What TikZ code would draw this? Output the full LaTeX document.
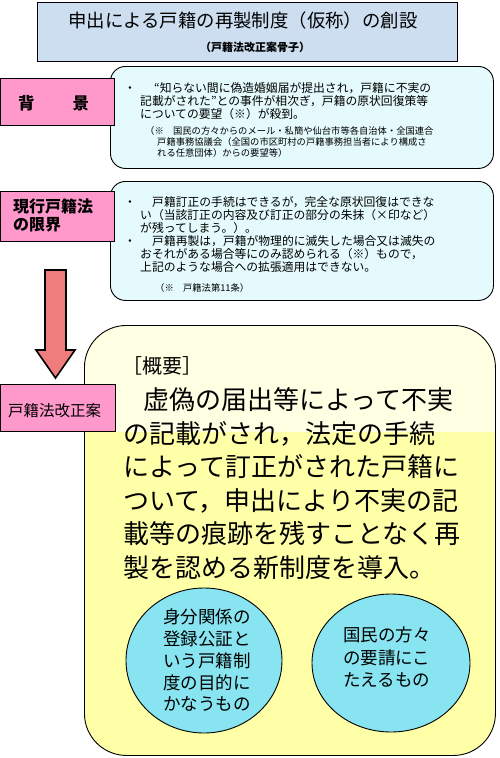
\documentclass[tikz,border=0pt]{standalone}
\usepackage{fontspec}
\setmainfont{Noto Sans CJK JP}
\usetikzlibrary{shapes.geometric}
\definecolor{titlebg}{RGB}{205,222,240}
\definecolor{pinkfill}{RGB}{255,153,204}
\definecolor{callbg}{RGB}{228,250,252}
\definecolor{ylight}{RGB}{255,255,228}
\definecolor{ymain}{RGB}{255,255,168}
\definecolor{circfill}{RGB}{135,228,240}
\definecolor{arrowred}{RGB}{240,125,125}
\newcommand\fs[2]{\fontsize{#1}{#2}\selectfont}
\tikzset{
  pinkbox/.style={draw=black, fill=pinkfill, line width=0.9pt, anchor=north west, inner sep=0},
  callout/.style={draw=black, fill=callbg, rounded corners=15pt, line width=0.9pt, anchor=north west, inner sep=0},
  circbox/.style={ellipse, draw=black, fill=circfill, line width=0.9pt, inner sep=0},
  txt/.style={anchor=base west, inner sep=0},
  bodytxt/.style={txt, font=\fs{11.8}{13}},
  smalltxt/.style={txt, font=\fs{9.3}{11}},
  bigtxt/.style={txt, font=\fs{26}{30}},
  circtxt/.style={txt, font=\fs{17.5}{20}},
}
\begin{document}
\begin{tikzpicture}[x=1pt,y=-1pt]
\useasboundingbox[fill=white] (0,0) rectangle (499,758);

% title
\node[draw=black, fill=titlebg, line width=1.2pt, minimum width=420pt, minimum height=59pt, anchor=north west, inner sep=0] (title) at (37,2) {};
\node[anchor=base, inner sep=0, font=\fs{18.4}{20}] (tmain) at (243,27) {申出による戸籍の再製制度（仮称）の創設};
\node[anchor=base, inner sep=0, font=\bfseries\fs{11}{12}] (tsub) at (255,51.5) {（戸籍法改正案骨子）};

% background
\node[callout, minimum width=383pt, minimum height=102pt] (bgbox) at (110,66) {};
\node[pinkbox, minimum width=114pt, minimum height=47pt] (bglabel) at (0,78) {};
\node[txt, font=\bfseries\fs{16.5}{18}] (bgtext) at (18,109.5) {背\hspace{38pt}景};

\node[bodytxt] (b1dot) at (124,92.6) {・};
\node[bodytxt] (b1l1) at (154,92.6) {“知らない間に偽造婚姻届が提出され，戸籍に不実の};
\node[bodytxt] (b1l2) at (140,105.6) {記載がされた”との事件が相次ぎ，戸籍の原状回復策等};
\node[bodytxt] (b1l3) at (140,118.6) {についての要望（※）が殺到。};
\node[smalltxt] (b1s1) at (145,134.6) {（※　国民の方々からのメール・私簡や仙台市等各自治体・全国連合};
\node[smalltxt] (b1s2) at (157,145.6) {戸籍事務協議会（全国の市区町村の戸籍事務担当者により構成さ};
\node[smalltxt] (b1s3) at (157,156.6) {れる任意団体）からの要望等）};

% current law limits
\node[callout, minimum width=383pt, minimum height=119pt] (limbox) at (110,181) {};
\node[pinkbox, minimum width=114pt, minimum height=50pt] (limlabel) at (0,191) {};
\node[txt, font=\bfseries\fs{16}{18}] (limt1) at (13,212) {現行戸籍法};
\node[txt, font=\bfseries\fs{16}{18}] (limt2) at (13,230) {の限界};

\node[bodytxt] (b2dot1) at (124,206.6) {・};
\node[bodytxt] (b2l1) at (152,206.6) {戸籍訂正の手続はできるが，完全な原状回復はできな};
\node[bodytxt] (b2l2) at (140,219.6) {い（当該訂正の内容及び訂正の部分の朱抹（×印など）};
\node[bodytxt] (b2l3) at (140,232.6) {が残ってしまう。）。};
\node[bodytxt] (b2dot2) at (124,245.6) {・};
\node[bodytxt] (b2l4) at (152,245.6) {戸籍再製は，戸籍が物理的に滅失した場合又は滅失の};
\node[bodytxt] (b2l5) at (140,258.6) {おそれがある場合等にのみ認められる（※）もので，};
\node[bodytxt] (b2l6) at (140,271.6) {上記のような場合への拡張適用はできない。};
\node[smalltxt] (b2s1) at (155,291.6) {（※　戸籍法第11条）};

% block arrow
\draw[fill=arrowred, line width=1.6pt, line join=miter]
  (45,270) -- (66,270) -- (66,350) -- (75,350) -- (55.5,378) -- (36,350) -- (45,350) -- cycle;

% summary box
\node[draw=black, fill=ylight, line width=0.9pt, rounded corners=42pt, anchor=north west, inner sep=0,
      minimum width=411pt, minimum height=430pt,
      path picture={\fill[ymain, sharp corners] (path picture bounding box.south west) rectangle ([yshift=-107pt]path picture bounding box.north east);}]
      (sumbox) at (84,325) {};
\node[pinkbox, minimum width=115pt, minimum height=47pt] (revlabel) at (0,384) {};
\node[txt, font=\fs{15.5}{17}] (revtext) at (8,416) {戸籍法改正案};

\node[txt, font=\fs{20}{22}] (gaiyo) at (122,373) {［概要］};
\node[bigtxt] (g1) at (123,409.9) {\hspace{20pt}虚偽の届出等によって不実};
\node[bigtxt] (g2) at (123,443.4) {の記載がされ，法定の手続};
\node[bigtxt] (g3) at (123,476.9) {によって訂正がされた戸籍に};
\node[bigtxt] (g4) at (123,510.4) {ついて，申出により不実の記};
\node[bigtxt] (g5) at (123,543.9) {載等の痕跡を残すことなく再};
\node[bigtxt] (g6) at (123,577.4) {製を認める新制度を導入。};

% circles
\node[circbox, minimum width=156pt, minimum height=145pt] (cleft) at (204,660.5) {};
\node[circbox, minimum width=158pt, minimum height=138pt] (cright) at (391,663) {};
\node[circtxt] (cl1) at (163,623.7) {身分関係の};
\node[circtxt] (cl2) at (163,645.7) {登録公証と};
\node[circtxt] (cl3) at (163,667.7) {いう戸籍制};
\node[circtxt] (cl4) at (163,689.7) {度の目的に};
\node[circtxt] (cl5) at (163,710.7) {かなうもの};
\node[circtxt] (cr1) at (343,641.7) {国民の方々};
\node[circtxt] (cr2) at (343,664.7) {の要請にこ};
\node[circtxt] (cr3) at (343,686.7) {たえるもの};
\end{tikzpicture}
\end{document}
